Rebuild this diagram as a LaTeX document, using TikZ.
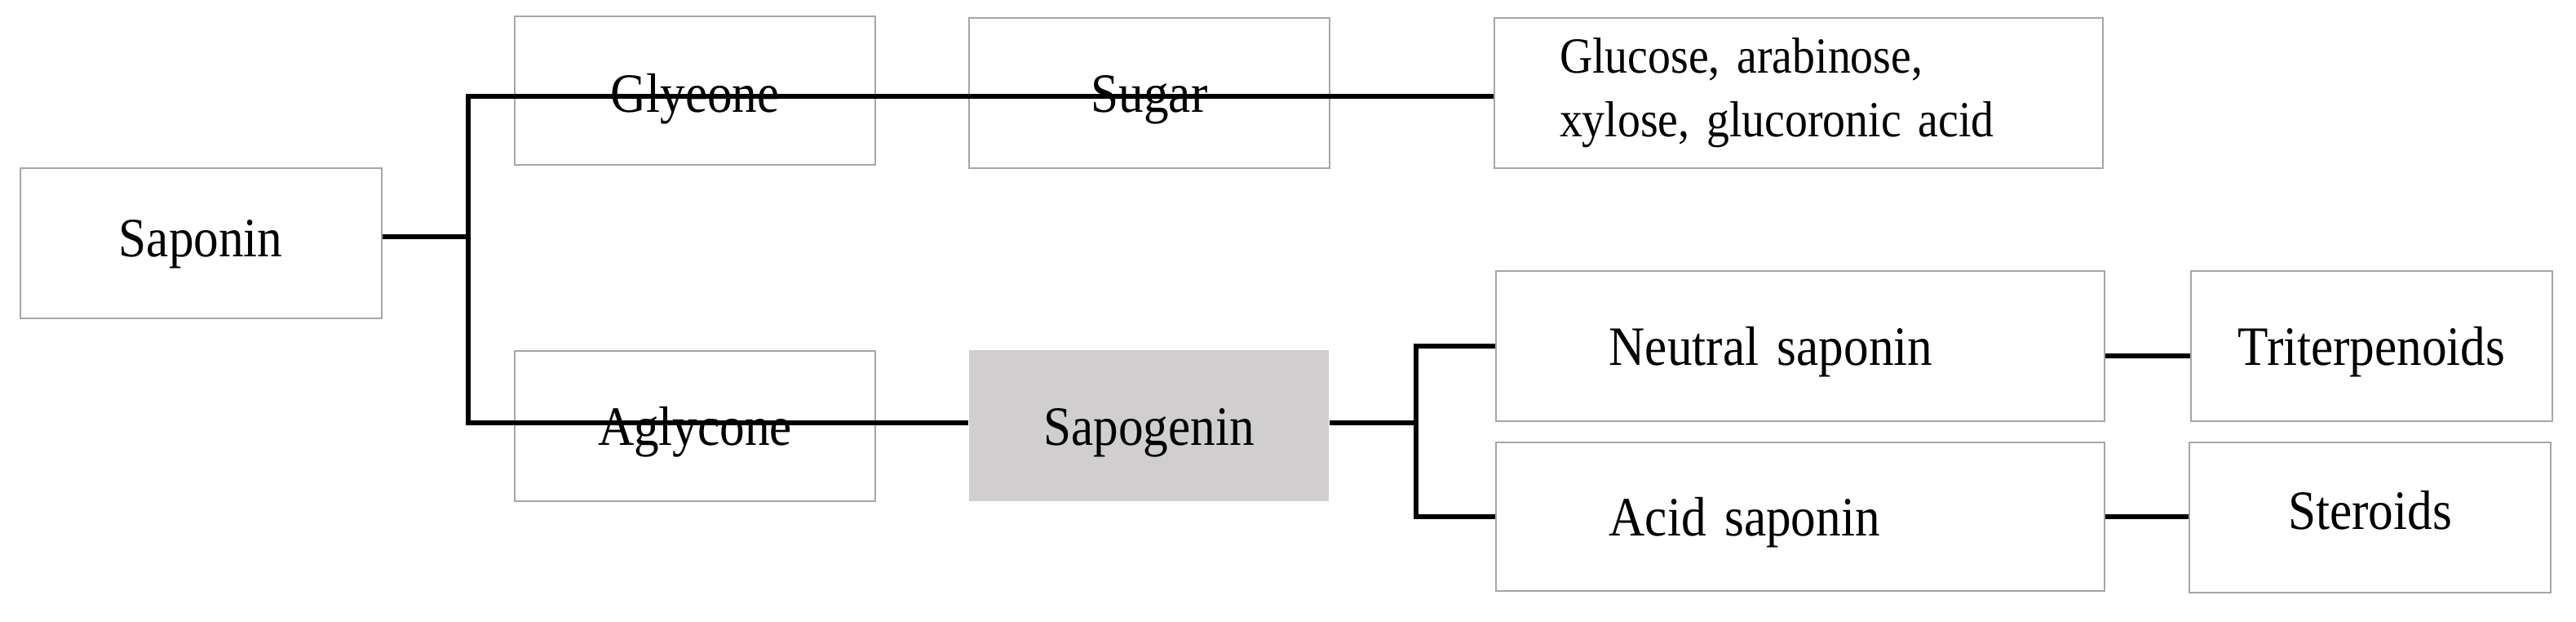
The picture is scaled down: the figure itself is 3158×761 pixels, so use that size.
\documentclass[tikz,border=0pt]{standalone}
\usepackage{fontspec}
\setmainfont{Liberation Serif}[FakeStretch=0.9,WordSpace=0.75]
\definecolor{boxgray}{RGB}{166,166,166}
\definecolor{sapfill}{RGB}{208,206,206}
\begin{document}
\begin{tikzpicture}[x=0.25pt,y=-0.25pt,
  box/.style 2 args={draw=boxgray, line width=0.5pt, rectangle, inner sep=0pt,
    minimum width=#1*0.25pt, minimum height=#2*0.25pt,
    font=\fontsize{17pt}{20pt}\selectfont},
  onel/.style={text height=15.8pt, text depth=4pt},
  conn/.style={line width=1.5pt, black, line join=miter}]
\useasboundingbox (0,0) rectangle (3158,761);

\node[box={443.5}{184},onel,text height=12.3pt] (sap) at (246.25,298) {Saponin};
\node[box={442}{181.5},onel,text height=17.5pt] (gly) at (852,110.75) {Glyeone};
\node[box={442}{184},onel] (agl) at (852,522) {Aglycone};
\node[box={442}{184},onel] (sug) at (1409,114) {Sugar};
\node[box={746}{184},inner xsep=20pt,text width=146.5pt,align=left,
      font=\fontsize{15.5pt}{19.5pt}\selectfont] (glu) at (2205,114)
      {Glucose, arabinose,\\xylose, glucoronic acid};
\node[box={441}{185},draw=none,fill=sapfill,onel] (sapg) at (1408.5,521.5) {Sapogenin};
\node[box={745.5}{184},onel,inner xsep=34.625pt,text width=117.125pt,align=left] (neu) at (2207,423.5) {Neutral saponin};
\node[box={745.5}{182},onel,inner xsep=34.625pt,text width=117.125pt,align=left] (acid) at (2207,633) {Acid saponin};
\node[box={443}{184},onel] (tri) at (2907.5,423.5) {Triterpenoids};
\node[box={443}{184},onel,text height=11pt] (ste) at (2905.5,634) {Steroids};

\coordinate (btop) at (574,118);
\coordinate (bbot) at (574,518);
\coordinate (bmid) at (574,290);
\coordinate (c2) at (1736,518);

\draw[conn] (glu.west |- btop) -- (btop) -- (bbot) -- (sapg.west |- bbot);
\draw[conn] (sap.east |- bmid) -- (bmid);
\draw[conn] (sapg.east |- c2) -- (c2);
\draw[conn] (neu.west) -- (neu.west -| c2) -- (acid.west -| c2) -- (acid.west);
\draw[conn] ([yshift=-3pt]neu.east) -- ([yshift=-3pt]neu.east -| tri.west);
\draw[conn] (acid.east) -- (acid.east -| ste.west);
\end{tikzpicture}
\end{document}
